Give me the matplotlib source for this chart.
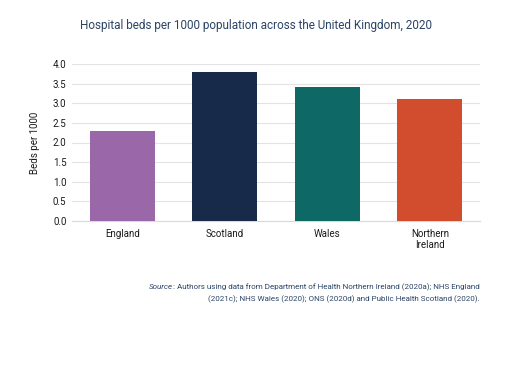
import matplotlib.pyplot as plt
import numpy as np

# data
regions = ['England', 'Scotland', 'Wales', 'Northern\nIreland']
beds = [2.29, 3.80, 3.41, 3.11]
colours = ['#9a68a9', '#172a4a', '#0e6966', '#d24d2d']
yticks = [0.0, 0.5, 1.0, 1.5, 2.0, 2.5, 3.0, 3.5, 4.0]

plt.rcParams['font.family'] = ['Roboto', 'DejaVu Sans']

fig = plt.figure(figsize=(5.27, 3.76), dpi=100)
ax = fig.add_axes([72/527, 1-221/376, 408/527, (221-64)/376])

x = np.arange(len(regions))
ax.bar(x, beds, width=0.63, color=colours, zorder=3)

ax.set_xlim(-0.49, 3.49)
ax.set_ylim(0, 4.0)
ax.set_yticks(yticks)
ax.set_yticklabels([f'{t:.1f}' for t in yticks], fontsize=7, color='#1a1a1a')
ax.set_xticks(x)
ax.set_xticklabels(regions, fontsize=7, color='#1a1a1a', linespacing=1.1)
ax.tick_params(axis='both', length=0, pad=4)
ax.tick_params(axis='x', pad=6)
ax.grid(axis='y', color='#e3e3e3', linewidth=0.8, zorder=0)
for s in ['top', 'right', 'left']:
    ax.spines[s].set_visible(False)
ax.spines['bottom'].set_color('#d9d9d9')
ax.spines['bottom'].set_linewidth(0.8)
ax.set_ylabel('Beds per 1000', fontsize=7, color='#1a1a1a', labelpad=9)

fig.text(256/527, 1-26/376, 'Hospital beds per 1000 population across the United Kingdom, 2020',
         ha='center', va='center', fontsize=8.5, color='#2b4466')

# source note, "Source" in italics in front of the first line
src1 = fig.text(480/527, 1-287/376, ': Authors using data from Department of Health Northern Ireland (2020a); NHS England',
                ha='right', va='center', fontsize=5.8, color='#2b4466')
fig.text(480/527, 1-299/376, '(2021c); NHS Wales (2020); ONS (2020d) and Public Health Scotland (2020).',
         ha='right', va='center', fontsize=5.8, color='#2b4466')
plt.annotate('Source', xy=(0, 0.5), xycoords=src1, ha='right', va='center',
             fontsize=5.8, style='italic', color='#2b4466')

plt.savefig('out.png', dpi=100)
